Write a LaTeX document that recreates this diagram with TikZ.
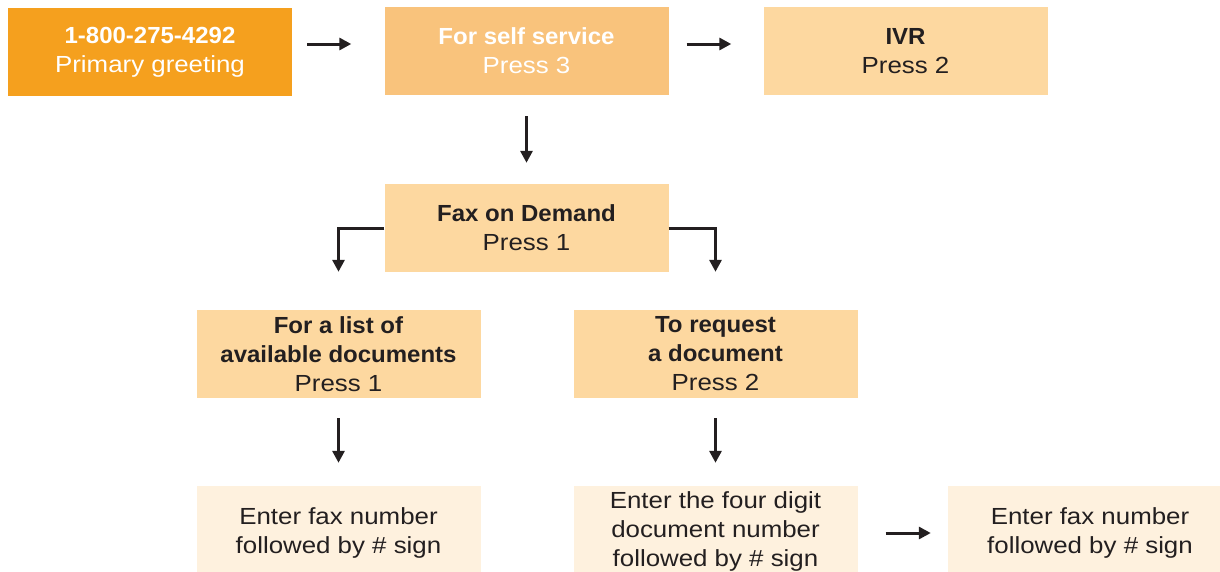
\documentclass[tikz,border=0pt]{standalone}
\usepackage{fontspec}
\setmainfont{Liberation Sans}[FakeStretch=1.11,BoldFeatures={FakeStretch=1.03}]
\usetikzlibrary{arrows.meta}
\definecolor{darkorange}{RGB}{245,160,30}
\definecolor{midorange}{RGB}{249,195,124}
\definecolor{lightorange}{RGB}{253,216,160}
\definecolor{paleorange}{RGB}{254,241,222}
\definecolor{darktext}{RGB}{35,31,32}
\begin{document}
\begin{tikzpicture}[x=1pt,y=-1pt,
  box/.style={minimum width=284pt,minimum height=88pt,inner sep=0pt,align=center,
    text=darktext,font=\fontsize{23.3}{29}\selectfont},
  entry/.style={box,minimum height=94pt,fill=paleorange},
  arr/.style={draw=darktext,line width=3pt,-{Triangle[length=12pt,width=12pt]}}]
\useasboundingbox (0,0) rectangle (1220,571);
\clip (0,0) rectangle (1220,571);
% Drawing boxes
% Row 1: greeting, self service, IVR
\node[box,fill=darkorange,text=white] (greet) at (150,52) {\textbf{1-800-275-4292}\\Primary greeting};
\node[box,fill=midorange,text=white] (self) at (526.5,51) {\textbf{For self service}\\Press 3};
\node[box,fill=lightorange] (ivr) at (905.5,51) {\textbf{IVR}\\Press 2};
% Row 2: fax on demand
\node[box,fill=lightorange] (fax) at (526.5,228) {\textbf{Fax on Demand}\\Press 1};
% Row 3: the two menu choices
\node[box,fill=lightorange] (list) at (338.5,354) {\textbf{For a list of}\\\textbf{available documents}\\Press 1};
\node[box,fill=lightorange] (req) at (715.5,354) {\textbf{To request}\\\textbf{a document}\\Press 2};
% Row 4: entries
\node[entry] (listfax) at (338.5,533) {Enter fax number\\followed by \# sign};
\node[entry,minimum height=90pt] (docnum) at (715.5,531) {Enter the four digit\\document number\\followed by \# sign};
\node[entry] (reqfax) at (1090,533) {Enter fax number\\followed by \# sign};
% Done with boxes; drawing arrows
\draw[arr,shorten <=15pt,shorten >=33pt] ([yshift=8pt]greet.east) -- ([yshift=8pt]greet.east -| self.west);
\draw[arr,shorten <=18pt,shorten >=32pt] ([yshift=7pt]self.east) -- ([yshift=7pt]self.east -| ivr.west);
\draw[arr,shorten <=21pt,shorten >=21pt] (self.south) -- (fax.north);
\draw[arr,shorten >=38pt] (fax.west) -| (list.north);
\draw[arr,shorten >=38pt] (fax.east) -| (req.north);
\draw[arr,shorten <=20pt,shorten >=23pt] (list.south) -- (listfax.north);
\draw[arr,shorten <=20pt,shorten >=23pt] (req.south) -- (docnum.north);
\draw[arr,shorten <=28pt,shorten >=17pt] (reqfax.west -| docnum.east) -- (reqfax.west);
\end{tikzpicture}
\end{document}
